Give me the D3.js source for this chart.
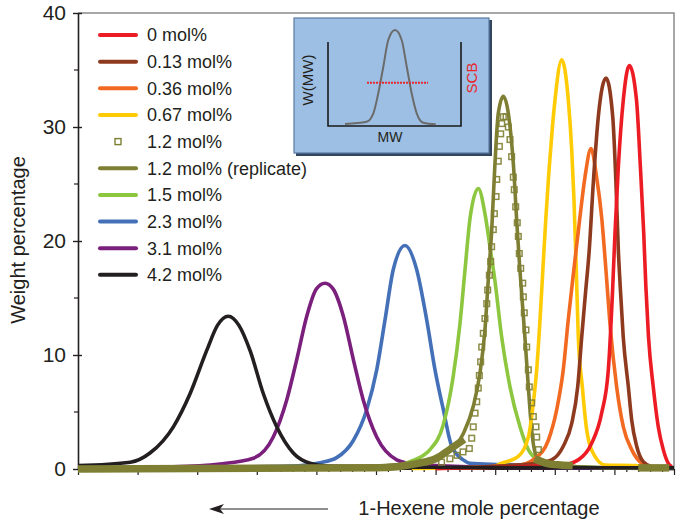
<!DOCTYPE html>
<html>
<head>
<meta charset="utf-8">
<script src="https://cdn.jsdelivr.net/npm/d3@7"></script>
<style>
  body { margin: 0; background: #fff; }
  text { font-family: "Liberation Sans", Arial, Helvetica, sans-serif; fill: #231f20; }
</style>
</head>
<body>
<svg id="chart" width="676" height="521"></svg>
<script>
// legend labels (top to bottom)
var seriesNames = ["0 mol%", "0.13 mol%", "0.36 mol%", "0.67 mol%", "1.2 mol%",
                   "1.2 mol% (replicate)", "1.5 mol%", "2.3 mol%", "3.1 mol%", "4.2 mol%"];
var seriesColors = ["#ed1c24", "#8e3a1f", "#f26a21", "#ffcb05", "#7f7f33",
                    "#7f7f33", "#8dc63f", "#4470b8", "#7b1f7d", "#231f20"];

// [x position (arbitrary units, 0-50), weight %]
var mol0 = [[30,0.05],[40.58,0.35],[41.97,0.8],[43.09,2.25],[43.93,4.9],[44.49,8.7],[44.84,15.5],[45.05,20.7],
  [45.33,26.5],[45.75,32.4],[46.25,35.4],[46.85,32.4],[47.18,26.5],[47.46,20.7],[47.64,16],[47.86,11.6],
  [48.26,7.2],[48.68,3.7],[49.1,1.7],[49.52,0.5],[49.83,0.2]];
var mol013 = [[30,0.05],[38.62,0.5],[39.74,0.8],[40.71,2.0],[41.42,4.0],[41.92,7.2],[42.26,11.6],[42.58,15.5],
  [42.89,19.2],[43.23,25.1],[43.65,30.9],[44.3,34.3],[44.86,30.9],[45.13,25.1],[45.33,19.2],[45.49,16],
  [45.74,11.6],[46.17,7.2],[46.45,4.3],[46.87,2.0],[47.42,0.64],[48.13,0.2],[49.5,0.05]];
var mol036 = [[30,0.05],[36.94,0.35],[38.34,0.94],[39.45,2.5],[40.16,5.2],[40.71,8.7],[41.13,13.1],[41.61,17.6],
  [42.11,22.1],[42.53,25.6],[43.04,28.1],[43.51,25.6],[43.93,22.1],[44.28,17.6],[44.63,12.7],[45.19,7.2],
  [45.75,3.7],[46.45,1.7],[47.29,0.5],[47.99,0.2],[49.5,0.05]];
var mol067 = [[28,0.05],[34.56,0.15],[35.54,0.5],[36.94,1.1],[37.78,2.8],[38.2,5.8],[38.48,8.7],[38.76,13.1],
  [39.0,17.5],[39.25,22.0],[39.5,26.0],[39.8,30.0],[40.02,32.4],[40.58,35.9],[41.13,32.4],[41.42,28.0],
  [41.61,23.6],[41.8,17.5],[41.97,11.6],[42.31,7.2],[42.68,3.4],[43.37,1.1],[44.21,0.35],[46.73,0.3],[48,0.1]];
var mol12 = [[30.5,0.6],[31.2,0.9],[31.8,1.2],[32.3,1.5],[32.83,1.8],[33.03,2.7],[33.16,3.7],[33.31,4.9],
  [33.45,5.9],[33.58,7.1],[33.67,8.2],[33.78,9.4],[33.87,10.7],[34.0,11.9],[34.14,13.2],[34.29,14.5],
  [34.37,15.7],[34.51,17.0],[34.62,18.2],[34.7,19.5],[34.84,21.0],[34.93,22.4],[35.07,23.9],[35.13,25.4],
  [35.26,27.0],[35.35,28.3],[35.46,29.4],[35.55,30.3],[35.68,30.9],[35.91,30.9],[36.1,30.0],[36.24,28.9],
  [36.38,27.4],[36.52,25.6],[36.6,24.5],[36.72,23.0],[36.85,21.6],[36.94,20.4],[37.02,18.9],[37.14,17.6],
  [37.31,16.3],[37.36,15.1],[37.44,13.7],[37.58,12.2],[37.64,10.7],[37.78,8.7],[37.86,7.2],[38.06,5.8],
  [38.2,4.6],[38.42,3.7],[38.48,2.8],[38.62,1.7]];
// stretches where the 1.2 mol% markers sit so close they merge into a solid band
var mol12Band = [
  [[0,0],[25,0.1],[28.5,0.5],[30,0.9],[31.3,1.8],[32.4,2.6]],
  [[38.3,0.9],[39.3,0.5],[40.5,0.35],[41.5,0.3]],
  [[47,0.1],[49.6,0.1]]
];
var mol12rep = [[0,0.1],[20,0.15],[27,0.4],[29.53,0.8],[30.93,1.4],[32.32,3.1],[33.16,5.5],[33.72,8.4],
  [34.14,12.2],[34.42,16.6],[34.71,21.0],[34.98,26.8],[35.26,31.2],[35.68,32.7],[36.1,31.2],[36.52,26.8],
  [36.85,21.0],[37.07,17.5],[37.49,11.6],[37.78,7.2],[38.06,3.4],[38.48,1.1],[39.5,0.6],[41.9,0.2],[45,0.1],[50,0.05]];
var mol15 = [[0,0.05],[20,0.1],[25.9,0.2],[27.85,0.64],[29.53,1.7],[30.62,3.8],[31.46,8.0],[32.05,12.8],
  [32.47,17.5],[32.89,22.0],[33.58,24.6],[34.14,22.4],[34.56,19.5],[34.98,16.5],[35.54,11.6],[36.24,7.2],
  [37.08,3.7],[37.78,1.7],[38.62,0.8],[40,0.4],[42,0.2],[45,0.1]];
var mol23 = [[0,0.1],[10,0.15],[17.8,0.26],[20.3,0.55],[21.7,1.0],[23.1,2.5],[24.22,5.2],[25.06,8.7],
  [25.76,13.1],[26.45,17.5],[27.43,19.6],[28.41,17.5],[29.25,13.1],[29.95,8.7],[30.65,5.2],[31.35,2.0],
  [32.32,0.8],[32.89,0.5],[35.4,0.4],[38.8,0.3],[40.5,0.1],[50,0.05]];
var mol31 = [[0,0.1],[8,0.2],[11.9,0.44],[14.71,0.94],[16.38,2.8],[17.51,6.05],[18.35,9.6],[19.19,13.4],
  [20.0,15.8],[20.72,16.3],[21.4,15.8],[22.26,13.4],[23.1,9.6],[23.93,6.05],[25.06,2.8],[26.74,0.8],
  [28,0.45],[30,0.3],[35,0.15],[50,0.05]];
var mol42 = [[0,0.3],[4.4,0.6],[6.04,1.4],[8.0,3.7],[9.4,6.6],[10.8,10.4],[11.7,12.6],[12.61,13.4],
  [13.5,12.6],[14.43,10.4],[15.55,6.6],[16.67,3.7],[18.06,1.4],[19.46,0.5],[21,0.25],[30,0.15],[40,0.12],[50,0.1]];

var yMajorTicks = [0, 10, 20, 30, 40];
var yMinorTicks = [5, 15, 25, 35];
var xTickCount = 50;

// inset schematic: W(MW) curve and SCB level
var insetCurve = [[1.28,0.24],[2.91,0.51],[3.41,1.51],[3.78,3.9],[4.16,7.06],[4.53,10.24],[5.04,11.43],
  [5.54,10.24],[5.92,7.06],[6.29,3.9],[6.67,1.51],[7.17,0.39],[8.1,0.2]];
var insetFrame = [[0,10],[0,0],[10,0],[10,10]];
var insetScb = [[2.93,5.15],[7.52,5.15]];

var svg = d3.select("#chart");
var x = d3.scaleLinear().domain([0, 50]).range([78, 674]);
var y = d3.scaleLinear().domain([0, 40]).range([469, 13]);

var line = d3.line().x(d => x(d[0])).y(d => y(d[1])).curve(d3.curveMonotoneX);

// frame (top + right)
svg.append("path")
  .attr("d", "M" + x(0) + "," + y(40) + "H" + x(50) + "V" + y(0))
  .attr("fill", "none").attr("stroke", "#8a8a8a").attr("stroke-width", 1.5);

// x axis: small ticks, no labels
var xAxis = svg.append("g")
  .attr("transform", "translate(0," + y(0) + ")")
  .call(d3.axisBottom(x).tickValues(d3.range(0, xTickCount + 1))
        .tickSize(3).tickSizeOuter(0).tickFormat(""));
xAxis.select(".domain").attr("stroke", "#231f20").attr("stroke-width", 1.2);
xAxis.selectAll(".tick line").attr("stroke", "#231f20").attr("stroke-width", 1.2)
  .attr("y2", d => d % 5 === 0 ? 6 : 3);

// y axis
var yAxis = svg.append("g")
  .attr("transform", "translate(" + x(0) + ",0)")
  .call(d3.axisLeft(y).tickValues(yMajorTicks).tickSize(5).tickSizeOuter(0).tickPadding(7));
yAxis.select(".domain").attr("stroke", "#231f20").attr("stroke-width", 1.6);
yAxis.selectAll(".tick line").attr("stroke", "#231f20").attr("stroke-width", 1.4).attr("x2", -5).attr("x1", 4);
yAxis.selectAll(".tick text").attr("font-size", 21).attr("fill", "#231f20")
  .style("font-family", '"Liberation Sans", Arial, sans-serif');
yAxis.selectAll(".minor").data(yMinorTicks).enter().append("line")
  .attr("x1", -4).attr("x2", 0).attr("y1", d => y(d)).attr("y2", d => y(d))
  .attr("stroke", "#231f20").attr("stroke-width", 1.2);

// curves
var drawOrder = [
  [mol23, 7], [mol31, 8], [mol15, 6], [mol12rep, 5], [mol067, 3], [mol036, 2],
  [mol013, 1], [mol0, 0], [mol42, 9]
];
drawOrder.forEach(function (s) {
  svg.append("path")
    .attr("d", line(s[0]))
    .attr("fill", "none")
    .attr("stroke", seriesColors[s[1]])
    .attr("stroke-width", 3.6)
    .attr("stroke-linejoin", "round");
});

// 1.2 mol% markers
svg.append("g").selectAll("rect").data(mol12).enter().append("rect")
  .attr("x", d => x(d[0]) - 2.8).attr("y", d => y(d[1]) - 2.8)
  .attr("width", 5.6).attr("height", 5.6)
  .attr("fill", "none").attr("stroke", seriesColors[4]).attr("stroke-width", 1.5)
  .attr("opacity", 0.9);
mol12Band.forEach(function (b) {
  svg.append("path")
    .attr("d", line(b))
    .attr("fill", "none")
    .attr("stroke", seriesColors[4])
    .attr("stroke-width", 7.5);
});

// legend
var legend = svg.append("g");
seriesNames.forEach(function (name, i) {
  var ly = 35 + i * 26.65;
  if (i === 4) {
    legend.append("rect").attr("x", 115).attr("y", ly - 3).attr("width", 6).attr("height", 6)
      .attr("fill", "none").attr("stroke", seriesColors[i]).attr("stroke-width", 1.4);
  } else {
    legend.append("line").attr("x1", 100).attr("x2", 136).attr("y1", ly).attr("y2", ly)
      .attr("stroke", seriesColors[i]).attr("stroke-width", 4).attr("stroke-linecap", "round");
  }
  legend.append("text").attr("x", 147).attr("y", ly).attr("dy", "0.36em")
    .attr("font-size", 18).text(name);
});

// inset
var inset = svg.append("g");
inset.append("rect").attr("x", 296).attr("y", 20).attr("width", 196).attr("height", 136).attr("fill", "#33465f");
inset.append("rect").attr("x", 294).attr("y", 18).attr("width", 195).attr("height", 135)
  .attr("fill", "#9dbfe3").attr("stroke", "#5a7ba3").attr("stroke-width", 1.2);
var ix = d3.scaleLinear().domain([0, 10]).range([328, 461]);
var iy = d3.scaleLinear().domain([0, 10]).range([126, 42]);
var iline = d3.line().x(d => ix(d[0])).y(d => iy(d[1]));
inset.append("path").attr("d", iline(insetFrame)).attr("fill", "none")
  .attr("stroke", "#1a1a1a").attr("stroke-width", 1.6);
inset.append("path").attr("d", iline.curve(d3.curveMonotoneX)(insetCurve)).attr("fill", "none")
  .attr("stroke", "#6b6b6b").attr("stroke-width", 2);
inset.append("path").attr("d", d3.line().x(d => ix(d[0])).y(d => iy(d[1]))(insetScb))
  .attr("fill", "none").attr("stroke", "#e8262a").attr("stroke-width", 2).attr("stroke-dasharray", "2,1");
inset.append("text").attr("transform", "translate(313,80) rotate(-90)").attr("text-anchor", "middle")
  .attr("font-size", 15).text("W(MW)");
inset.append("text").attr("transform", "translate(477,78) rotate(-90)").attr("text-anchor", "middle")
  .attr("font-size", 15).style("fill", "#e8262a").text("SCB");
inset.append("text").attr("x", 390).attr("y", 142).attr("text-anchor", "middle")
  .attr("font-size", 14).text("MW");

// axis titles
svg.append("text").attr("transform", "translate(25,240) rotate(-90)").attr("text-anchor", "middle")
  .attr("font-size", 20).text("Weight percentage");
svg.append("text").attr("x", 479).attr("y", 515).attr("text-anchor", "middle")
  .attr("font-size", 20).text("1-Hexene mole percentage");

// direction arrow (points left)
svg.append("line").attr("x1", 328).attr("x2", 220).attr("y1", 509).attr("y2", 509)
  .attr("stroke", "#231f20").attr("stroke-width", 1.2);
svg.append("path")
  .attr("d", "M209,509L224,504L220,509L224,514Z")
  .attr("fill", "#231f20");
</script>
</body>
</html>
